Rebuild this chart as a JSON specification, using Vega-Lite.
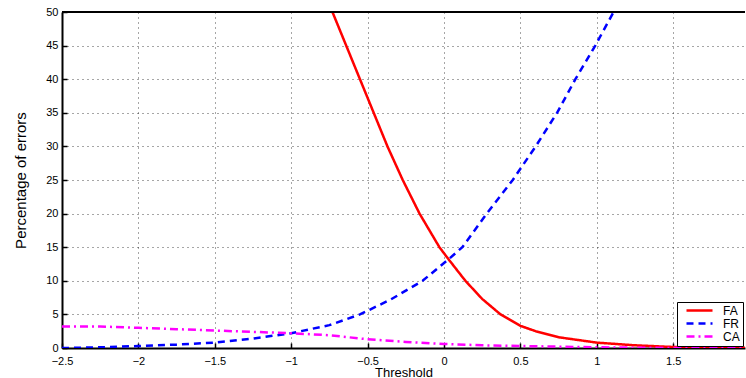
{
  "$schema": "https://vega.github.io/schema/vega-lite/v6.json",
  "width": 683,
  "height": 336,
  "autosize": {"type": "none"},
  "padding": {"left": 62, "top": 12, "right": 1, "bottom": 30},
  "background": "white",
  "config": {
    "view": {"stroke": null},
    "font": "Liberation Sans",
    "axis": {
      "domainColor": "black",
      "domainWidth": 2,
      "tickColor": "black",
      "tickSize": -5,
      "tickWidth": 1.5,
      "labelColor": "black",
      "labelFontSize": 11,
      "titleColor": "black",
      "titleFontWeight": "normal",
      "gridColor": "black",
      "gridDash": [1, 4],
      "gridOpacity": 0.7,
      "gridWidth": 1
    }
  },
  "data": {
    "values": [
      {"t": -0.73, "v": 50, "s": "FA"},
      {"t": -0.64, "v": 45, "s": "FA"},
      {"t": -0.55, "v": 40, "s": "FA"},
      {"t": -0.46, "v": 35, "s": "FA"},
      {"t": -0.37, "v": 30, "s": "FA"},
      {"t": -0.27, "v": 25, "s": "FA"},
      {"t": -0.16, "v": 20, "s": "FA"},
      {"t": -0.03, "v": 15, "s": "FA"},
      {"t": 0.03, "v": 13.2, "s": "FA"},
      {"t": 0.14, "v": 10, "s": "FA"},
      {"t": 0.25, "v": 7.3, "s": "FA"},
      {"t": 0.37, "v": 5, "s": "FA"},
      {"t": 0.5, "v": 3.3, "s": "FA"},
      {"t": 0.6, "v": 2.5, "s": "FA"},
      {"t": 0.75, "v": 1.6, "s": "FA"},
      {"t": 1.0, "v": 0.8, "s": "FA"},
      {"t": 1.25, "v": 0.4, "s": "FA"},
      {"t": 1.5, "v": 0.15, "s": "FA"},
      {"t": 1.75, "v": 0.05, "s": "FA"},
      {"t": 1.97, "v": 0.02, "s": "FA"},
      {"t": -2.5, "v": 0, "s": "FR"},
      {"t": -2.25, "v": 0.1, "s": "FR"},
      {"t": -2.0, "v": 0.3, "s": "FR"},
      {"t": -1.75, "v": 0.5, "s": "FR"},
      {"t": -1.5, "v": 0.8, "s": "FR"},
      {"t": -1.25, "v": 1.4, "s": "FR"},
      {"t": -1.0, "v": 2.2, "s": "FR"},
      {"t": -0.75, "v": 3.4, "s": "FR"},
      {"t": -0.55, "v": 5, "s": "FR"},
      {"t": -0.35, "v": 7.2, "s": "FR"},
      {"t": -0.14, "v": 10, "s": "FR"},
      {"t": 0.03, "v": 13.2, "s": "FR"},
      {"t": 0.12, "v": 15, "s": "FR"},
      {"t": 0.28, "v": 20, "s": "FR"},
      {"t": 0.45, "v": 25, "s": "FR"},
      {"t": 0.6, "v": 30, "s": "FR"},
      {"t": 0.74, "v": 35, "s": "FR"},
      {"t": 0.86, "v": 40, "s": "FR"},
      {"t": 0.99, "v": 45, "s": "FR"},
      {"t": 1.11, "v": 50, "s": "FR"},
      {"t": -2.5, "v": 3.2, "s": "CA"},
      {"t": -2.25, "v": 3.2, "s": "CA"},
      {"t": -2.0, "v": 3.0, "s": "CA"},
      {"t": -1.75, "v": 2.8, "s": "CA"},
      {"t": -1.5, "v": 2.6, "s": "CA"},
      {"t": -1.25, "v": 2.4, "s": "CA"},
      {"t": -1.0, "v": 2.2, "s": "CA"},
      {"t": -0.75, "v": 1.9, "s": "CA"},
      {"t": -0.5, "v": 1.3, "s": "CA"},
      {"t": -0.25, "v": 0.9, "s": "CA"},
      {"t": 0.0, "v": 0.6, "s": "CA"},
      {"t": 0.25, "v": 0.4, "s": "CA"},
      {"t": 0.5, "v": 0.3, "s": "CA"},
      {"t": 0.75, "v": 0.2, "s": "CA"},
      {"t": 1.0, "v": 0.1, "s": "CA"},
      {"t": 1.25, "v": 0.05, "s": "CA"},
      {"t": 1.5, "v": 0, "s": "CA"},
      {"t": 1.97, "v": 0, "s": "CA"}
    ]
  },
  "layer": [
    {
      "mark": {"type": "line", "strokeWidth": 2.5, "clip": true},
      "encoding": {
        "x": {
          "field": "t", "type": "quantitative",
          "scale": {"domain": [-2.5, 1.97], "nice": false, "zero": false},
          "axis": {"values": [-2.5, -2, -1.5, -1, -0.5, 0, 0.5, 1, 1.5], "format": "~g", "title": "Threshold", "titleFontSize": 13, "titlePadding": 0, "labelPadding": 12, "grid": true, "labelFlush": false}
        },
        "y": {
          "field": "v", "type": "quantitative",
          "scale": {"domain": [0, 50], "nice": false},
          "axis": {"values": [0, 5, 10, 15, 20, 25, 30, 35, 40, 45, 50], "title": "Percentage of errors", "titleFontSize": 15, "titlePadding": 17, "labelPadding": 9, "grid": true, "labelOverlap": false}
        },
        "color": {
          "field": "s", "type": "nominal",
          "scale": {"domain": ["FA", "FR", "CA"], "range": ["#ff0000", "#0000ff", "#ff00ff"]},
          "legend": {
            "title": null, "orient": "bottom-right", "offset": 2,
            "strokeColor": "black", "fillColor": "white", "padding": 3,
            "symbolType": "stroke", "symbolSize": 676, "symbolStrokeWidth": 2.5,
            "symbolOffset": 5, "labelOffset": 9, "clipHeight": 11,
            "labelFontSize": 12, "labelColor": "black", "rowPadding": 0
          }
        },
        "strokeDash": {
          "field": "s", "type": "nominal",
          "scale": {"domain": ["FA", "FR", "CA"], "range": [[1, 0], [7, 5], [8, 4, 2, 4]]},
          "legend": null
        }
      }
    },
    {
      "mark": {"type": "rule", "color": "black", "strokeWidth": 2},
      "encoding": {"y": {"datum": 50, "axis": {"values": [0, 5, 10, 15, 20, 25, 30, 35, 40, 45, 50], "title": "Percentage of errors", "titleFontSize": 15, "titlePadding": 17, "labelPadding": 9, "grid": true, "labelOverlap": false}}}
    }
  ]
}
